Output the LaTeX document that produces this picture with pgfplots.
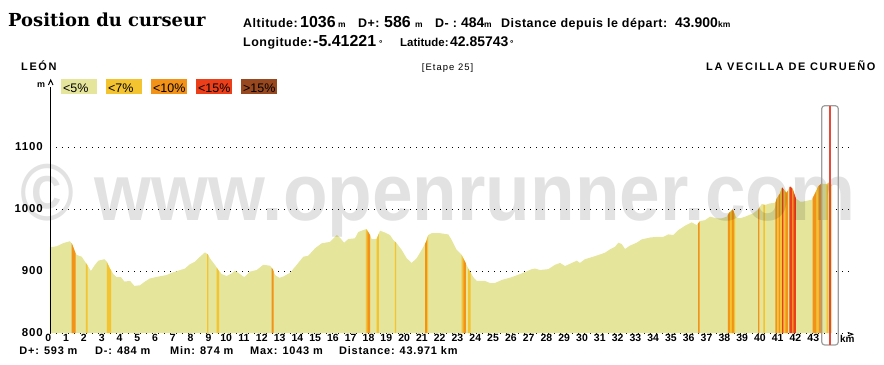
\documentclass[border=0pt]{standalone}
\usepackage{fontspec}
\setmainfont{Liberation Sans}
\newfontfamily\titlefont{DejaVu Serif}
\usepackage{pgfplots}
\pgfplotsset{compat=1.18}
\definecolor{c5}{RGB}{229,229,155}
\definecolor{c7}{RGB}{243,196,48}
\definecolor{c10}{RGB}{242,146,22}
\definecolor{c15}{RGB}{236,62,24}
\definecolor{c16}{RGB}{152,72,30}
\definecolor{curs}{RGB}{232,72,56}
\newcommand{\hl}{\bfseries\fontsize{12.5}{14}\selectfont\addfontfeature{LetterSpace=4}}
\newcommand{\hn}{\bfseries\fontsize{16}{18}\selectfont}
\newcommand{\hnr}{\bfseries\fontsize{14}{16}\selectfont}
\newcommand{\hu}{\bfseries\fontsize{8.5}{10}\selectfont}
\newcommand{\bs}{\bfseries\fontsize{11}{13}\selectfont\addfontfeature{LetterSpace=7}}
\begin{document}
\begin{tikzpicture}[x=1bp,y=1bp]
\begin{axis}[
  at={(0,0)}, anchor=south west, scale only axis,
  width=800.55bp, height=248bp,
  xmin=0, xmax=45, ymin=800, ymax=1200,
  axis line style={draw=none},
  clip=false,
  xtick={0,...,43}, ytick={800,900,1000,1100},
  major tick length=0pt,
  ymajorgrids,
  grid style={black, line width=0.9bp, dash pattern=on 0.9bp off 5.1bp},
  /pgf/number format/assume math mode=true,
  /pgf/number format/1000 sep={},
  xticklabel style={font=\bfseries\fontsize{10.5}{12}\selectfont, anchor=north, inner sep=0pt, yshift=-1bp, xshift=-1.7bp},
  yticklabel style={font=\bfseries\fontsize{11.5}{13}\selectfont\addfontfeature{LetterSpace=8}, anchor=east, inner sep=0pt, xshift=-7bp},
]
% profile (<5%)
\addplot[fill=c5, draw=none] coordinates {
(0,800)(0,938)(0.38,940)(0.75,945)(1.12,948)(1.25,943)(1.44,928.5)(1.50,926)(1.78,923)(1.97,915)(2.15,907)(2.30,900)(2.53,910)(2.72,916.6)(3.05,919)(3.19,915)(3.37,904)(3.56,895)(3.75,890)(3.99,890)(4.18,883)(4.50,884)(4.74,876)(5.06,877)(5.34,883)(5.62,888)(6.09,891)(6.56,893.5)(6.84,897)(7.21,900.5)(7.59,904)(7.87,911)(8.15,915)(8.43,923)(8.71,930)(8.86,927)(9.05,918)(9.27,910)(9.46,901.6)(9.65,895)(9.93,892)(10.21,896)(10.40,900.5)(10.58,897)(10.92,890)(11.24,899)(11.62,901.6)(11.99,910)(12.37,908.5)(12.52,903)(12.65,893.5)(12.89,889)(13.11,891)(13.49,897)(13.87,910)(14.24,923)(14.52,924.7)(14.90,936.6)(15.27,944.6)(15.74,947)(16.12,958)(16.30,953.7)(16.53,945.6)(16.77,951.6)(17.14,952.7)(17.33,963)(17.71,967)(17.80,967)(17.99,958)(18.08,951.6)(18.36,951.6)(18.55,965)(18.83,962)(19.11,958)(19.30,950)(19.49,944.6)(19.77,934)(20.05,920.5)(20.33,913)(20.61,920.5)(20.89,934)(21.14,947)(21.26,958)(21.46,961)(21.92,961)(22.39,959)(22.58,950)(22.86,934)(23.14,926)(23.33,915)(23.51,904)(23.79,890)(23.99,884)(24.45,884)(24.73,880.6)(25.01,880.6)(25.39,885.5)(25.95,890)(26.51,896)(27.08,903)(27.26,904)(27.54,901.6)(28.01,903)(28.39,910)(28.67,913)(28.95,908)(29.33,913)(29.61,916.6)(29.79,913)(30.07,919)(30.64,924)(31.20,929.5)(31.48,935)(31.76,939)(31.95,945.6)(32.14,943.5)(32.32,935.5)(32.60,941)(32.98,945.6)(33.26,951)(33.73,954)(34.10,955)(34.47,955)(34.76,959)(35.04,958)(35.32,966)(35.69,973)(36.07,978.5)(36.35,974)(36.54,980.6)(36.82,982)(37.10,987.6)(37.48,985)(37.76,985)(38.04,987.6)(38.18,994)(38.38,999.5)(38.56,986.6)(38.79,985)(39.07,987.6)(39.53,993)(39.81,999.5)(40.01,1008)(40.19,1006.5)(40.47,1009)(40.77,1010)(40.85,1017)(41.03,1025)(41.15,1035)(41.41,1026)(41.60,1036.5)(41.73,1033)(41.93,1017)(42.16,1012)(42.34,1012)(42.82,1015)(43.00,1025)(43.17,1036)(43.36,1041)(43.66,1040)(43.79,1043)(43.97,1038)(43.97,800)
} -- cycle;
% steep segments
\addplot[fill=c10, draw=none] coordinates {(1.22,800)(1.22,945)(1.25,943)(1.44,928.5)(1.44,800)} -- cycle;
\addplot[fill=c7, draw=none] coordinates {(2.01,800)(2.01,913.3)(2.12,908.3)(2.12,800)} -- cycle;
\addplot[fill=c7, draw=none] coordinates {(3.20,800)(3.20,914.4)(3.37,904)(3.43,901.2)(3.43,800)} -- cycle;
\addplot[fill=c7, draw=none] coordinates {(8.83,800)(8.83,927.6)(8.86,927)(8.90,925.2)(8.90,800)} -- cycle;
\addplot[fill=c7, draw=none] coordinates {(9.37,800)(9.37,905.5)(9.46,901.6)(9.50,900.2)(9.50,800)} -- cycle;
\addplot[fill=c10, draw=none] coordinates {(12.46,800)(12.46,905.2)(12.52,903)(12.57,899.3)(12.57,800)} -- cycle;
\addplot[fill=c7, draw=none] coordinates {(17.76,800)(17.76,967)(17.80,967)(17.84,965.1)(17.84,800)} -- cycle;
\addplot[fill=c10, draw=none] coordinates {(17.84,800)(17.84,965.1)(17.99,958)(17.99,800)} -- cycle;
\addplot[fill=c7, draw=none] coordinates {(18.36,800)(18.36,951.6)(18.48,960.1)(18.48,800)} -- cycle;
\addplot[fill=c7, draw=none] coordinates {(19.39,800)(19.39,947.4)(19.45,945.7)(19.45,800)} -- cycle;
\addplot[fill=c10, draw=none] coordinates {(21.08,800)(21.08,943.9)(21.14,947)(21.21,953.4)(21.21,800)} -- cycle;
\addplot[fill=c7, draw=none] coordinates {(21.21,800)(21.21,953.4)(21.26,958)(21.26,800)} -- cycle;
\addplot[fill=c7, draw=none] coordinates {(23.14,800)(23.14,926)(23.23,920.8)(23.23,800)} -- cycle;
\addplot[fill=c10, draw=none] coordinates {(23.23,800)(23.23,920.8)(23.33,915)(23.38,912)(23.38,800)} -- cycle;
\addplot[fill=c7, draw=none] coordinates {(23.51,800)(23.51,904)(23.65,897)(23.65,800)} -- cycle;
\addplot[fill=c10, draw=none] coordinates {(36.43,800)(36.43,976.7)(36.52,980)(36.52,800)} -- cycle;
\addplot[fill=c10, draw=none] coordinates {(38.11,800)(38.11,990.8)(38.18,994)(38.22,995.1)(38.22,800)} -- cycle;
\addplot[fill=c7, draw=none] coordinates {(38.22,800)(38.22,995.1)(38.33,998.1)(38.33,800)} -- cycle;
\addplot[fill=c10, draw=none] coordinates {(38.33,800)(38.33,998.1)(38.38,999.5)(38.44,995.2)(38.44,800)} -- cycle;
\addplot[fill=c7, draw=none] coordinates {(38.44,800)(38.44,995.2)(38.51,990.6)(38.51,800)} -- cycle;
\addplot[fill=c10, draw=none] coordinates {(39.80,800)(39.80,999.3)(39.81,999.5)(39.88,1002.5)(39.88,800)} -- cycle;
\addplot[fill=c7, draw=none] coordinates {(40.10,800)(40.10,1007.2)(40.18,1006.6)(40.18,800)} -- cycle;
\addplot[fill=c10, draw=none] coordinates {(40.77,800)(40.77,1010)(40.85,1017)(40.88,1018.3)(40.88,800)} -- cycle;
\addplot[fill=c7, draw=none] coordinates {(40.88,800)(40.88,1018.3)(40.96,1021.9)(40.96,800)} -- cycle;
\addplot[fill=c10, draw=none] coordinates {(40.96,800)(40.96,1021.9)(41.03,1025)(41.05,1026.7)(41.05,800)} -- cycle;
\addplot[fill=c7, draw=none] coordinates {(41.05,800)(41.05,1026.7)(41.15,1035)(41.15,800)} -- cycle;
\addplot[fill=c15, draw=none] coordinates {(41.15,800)(41.15,1035)(41.24,1031.5)(41.24,800)} -- cycle;
\addplot[fill=c7, draw=none] coordinates {(41.24,800)(41.24,1031.5)(41.33,1028.1)(41.33,800)} -- cycle;
\addplot[fill=c10, draw=none] coordinates {(41.33,800)(41.33,1028.1)(41.41,1026)(41.47,1029.6)(41.47,800)} -- cycle;
\addplot[fill=c15, draw=none] coordinates {(41.56,800)(41.56,1034.5)(41.60,1036.5)(41.71,1033.5)(41.71,800)} -- cycle;
\addplot[fill=c10, draw=none] coordinates {(41.71,800)(41.71,1033.5)(41.73,1033)(41.78,1029.8)(41.78,800)} -- cycle;
\addplot[fill=c15, draw=none] coordinates {(41.78,800)(41.78,1029.8)(41.93,1017)(41.93,800)} -- cycle;
\addplot[fill=c10, draw=none] coordinates {(42.87,800)(42.87,1017.9)(43.00,1025)(43.09,1030.8)(43.09,800)} -- cycle;
\addplot[fill=c7, draw=none] coordinates {(43.09,800)(43.09,1030.8)(43.17,1036)(43.21,1037.1)(43.21,800)} -- cycle;
\addplot[fill=c10, draw=none] coordinates {(43.21,800)(43.21,1037.1)(43.34,1040.7)(43.34,800)} -- cycle;
\addplot[fill=c7, draw=none] coordinates {(43.66,800)(43.66,1040)(43.75,1042.1)(43.75,800)} -- cycle;
\end{axis}
% y axis line and arrow
\draw[black, line width=1.3bp] (0.7,0) -- (0.7,246.5);
\draw[black, line width=1bp] (-1.6,248) -- (0.7,253) -- (3,248);
\node[anchor=base west, inner sep=0pt] at (-13,245.7) {\bfseries\fontsize{9}{10}\selectfont m};
% km arrow
\draw[black, line width=0.9bp] (797.7,0.6) -- (802.7,-1.2) -- (797.7,-3);
\node[anchor=base west, inner sep=0pt] at (790,-9.7) {\bfseries\fontsize{10}{11}\selectfont km};
% watermark
\node[anchor=base west, inner sep=0pt, text opacity=0.115] at (-29.3,113) {\scalebox{0.905}[1]{\bfseries\fontsize{81}{81}\selectfont \char"00A9\ www.openrunner.com}};
% cursor
\draw[black!38, line width=1.2bp, rounded corners=3bp] (771.7,-12) rectangle (788.3,227.3);
\draw[curs, line width=1.8bp] (780,-12) -- (780,227.3);
% legend boxes
\fill[c5] (11,238.7) rectangle (47,254);
\fill[c7] (56,238.7) rectangle (92,254);
\fill[c10] (101,238.7) rectangle (137,254);
\fill[c15] (146,238.7) rectangle (182,254);
\fill[c16] (191,238.7) rectangle (227,254);
\begin{scope}[every node/.style={anchor=base west, inner sep=0pt, font=\fontsize{12.5}{14}\selectfont}]
\node at (13,240.7) {<5\%};
\node at (58,240.7) {<7\%};
\node at (103,240.7) {<10\%};
\node at (148,240.7) {<15\%};
\node at (193,240.7) {>15\%};
\end{scope}
% titles
\node[anchor=base west, inner sep=0pt] at (-42,306.3) {\titlefont\bfseries\fontsize{18}{20}\selectfont Position du curseur};
\begin{scope}[every node/.style={anchor=base west, inner sep=0pt}]
\node at (193,305.3) {\hl Altitude:};
\node at (250,305.3) {\hn 1036};
\node at (288,305.3) {\hu m};
\node at (308,305.3) {\hl D+:};
\node at (334,305.3) {\hn 586};
\node at (365,305.3) {\hu m};
\node at (385,305.3) {\hl D- :};
\node at (411,305.3) {\hnr 484};
\node at (434,305.3) {\hu m};
\node at (451,305.3) {\hl Distance depuis le départ:};
\node at (625,305.3) {\hnr 43.900};
\node at (668,305.3) {\hu km};
\node at (193,286.3) {\hl Longitude:};
\node at (263,286.3) {\hn -5.41221};
\node at (329,286.3) {\hu °};
\node at (350,286.3) {\bfseries\fontsize{11.5}{13}\selectfont Latitude:};
\node at (400,286.3) {\hnr 42.85743};
\node at (460,286.3) {\hu °};
\node at (-29,262.3) {\bfseries\fontsize{11}{13}\selectfont\addfontfeature{LetterSpace=15}LEÓN};
\node at (371.7,262.3) {\fontsize{9.5}{11}\selectfont\addfontfeature{LetterSpace=11}[Etape 25]};
\node at (656,262.3) {\bfseries\fontsize{11}{13}\selectfont\addfontfeature{LetterSpace=15}LA VECILLA DE CURUEÑO};
\node at (-30.7,-21) {\bs D+: 593 m};
\node at (45,-21) {\bs D-: 484 m};
\node at (120,-21) {\bs Min: 874 m};
\node at (200,-21) {\bs Max: 1043 m};
\node at (289,-21) {\bs Distance: 43.971 km};
\end{scope}
\pgfresetboundingbox
\path[use as bounding box] (-50,-31) rectangle (834,333);
\end{tikzpicture}
\end{document}
